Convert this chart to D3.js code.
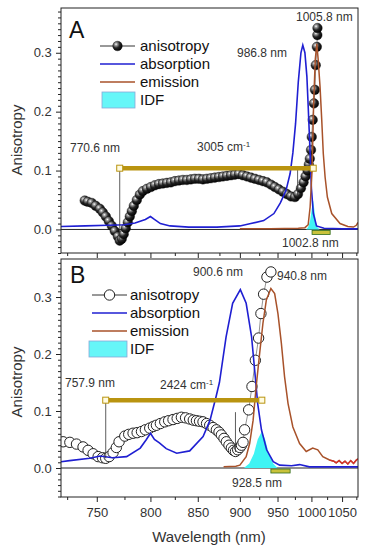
<!DOCTYPE html>
<html><head><meta charset="utf-8">
<script src="https://cdn.jsdelivr.net/npm/d3@7"></script>
<style>body{margin:0;background:#fff}svg{display:block}text{font-family:"Liberation Sans",Arial,sans-serif}</style>
</head><body><svg id="c" width="368" height="550"></svg>
<script>
// ---------- axis ticks ----------
const xTickLabels = [750, 800, 850, 900, 950, 1000, 1050];
const xMinorTicks = [725, 775, 825, 875, 925, 975, 1025, 1075];
const yTickLabels = [0.0, 0.1, 0.2, 0.3];
const yMinorA = [-0.04,-0.03,-0.02,-0.01,0.01,0.02,0.03,0.04,0.05,0.06,0.07,0.08,0.09,0.11,0.12,0.13,0.14,0.15,0.16,0.17,0.18,0.19,0.21,0.22,0.23,0.24,0.25,0.26,0.27,0.28,0.29,0.31,0.32,0.33,0.34,0.35,0.36,0.37];
const yMinorB = [-0.05,-0.04,-0.03,-0.02,-0.01,0.01,0.02,0.03,0.04,0.05,0.06,0.07,0.08,0.09,0.11,0.12,0.13,0.14,0.15,0.16,0.17,0.18,0.19,0.21,0.22,0.23,0.24,0.25,0.26,0.27,0.28,0.29,0.31,0.32,0.33,0.34,0.35,0.36];

// ---------- panel A data ----------
const absA_wl  = [720,740,760,775,785,795,800,804,810,820,840,872,900,914,931,945,954,962,968,972,976,980,984,986.8,990,993,995,998,1000,1003,1008,1020,1050,1078];
const absA_val = [0.005,0.006,0.007,0.008,0.011,0.017,0.022,0.017,0.010,0.006,0.004,0.004,0.006,0.010,0.015,0.027,0.045,0.066,0.095,0.13,0.18,0.25,0.30,0.313,0.30,0.26,0.21,0.13,0.07,0.027,0.006,0.002,0.001,0.001];

const emA_wl  = [900,940,980,990,995,998,1001,1003.5,1006,1008.4,1010.5,1013.6,1016.3,1018.8,1021.7,1025.4,1032.6,1046.5,1060,1069.8,1075,1078];
const emA_val = [0.001,0.001,0.002,0.003,0.008,0.038,0.10,0.214,0.288,0.315,0.29,0.242,0.186,0.129,0.089,0.055,0.027,0.010,0.005,0.004,0.007,0.012];

const idfA_wl  = [992,995,998,1000.5,1002.8,1005,1007,1010,1013];
const idfA_val = [0,0.004,0.015,0.035,0.049,0.030,0.012,0.003,0];

const anisA_wl  = [739.6,742.2,745.6,749.1,752.7,755.3,758.0,760.7,763.4,766.1,768.9,770.6,772.5,774.3,776.2,778.1,780.0,781.9,783.8,786.7,789.6,792.5,796.5,800.4,804.4,808.5,812.5,816.7,820.9,825.1,829.4,833.6,838.0,842.4,846.8,851.3,855.8,860.4,865.0,869.6,874.4,879.2,884.0,888.9,893.8,898.8,903.9,909.0,914.1,919.4,924.7,930.0,935.4,940.9,946.4,952.0,957.7,963.4,969.3,975.1,979.6,984,988,991,994,996,997.5,999.4,1000.5,1002,1004,1005.5,1006.8,1008.5,1009.3,1009.5];
const anisA_val = [0.049,0.047,0.045,0.040,0.035,0.029,0.022,0.014,0.006,-0.003,-0.012,-0.019,-0.016,-0.008,0.002,0.012,0.022,0.031,0.040,0.050,0.059,0.065,0.069,0.072,0.075,0.077,0.078,0.079,0.080,0.082,0.083,0.084,0.084,0.085,0.086,0.086,0.085,0.086,0.087,0.088,0.089,0.090,0.091,0.092,0.093,0.094,0.092,0.090,0.088,0.086,0.084,0.082,0.080,0.076,0.072,0.068,0.064,0.060,0.056,0.055,0.060,0.070,0.080,0.090,0.100,0.110,0.120,0.135,0.157,0.186,0.214,0.237,0.279,0.310,0.330,0.342];

const barA = [770.6, 1002.8];   // nm, 3005 cm-1
const barA_level = 0.104;
const markA = [979, 0.104, 0.058];
const bandA = [1001, 1030];

// ---------- panel B data ----------
const absB_wl  = [720,727,744,753,764,777,790,796,800,804,809,816,827,841,856,864,871,875,883,891,900.6,908,915,919,923,928,935,944,953,970,982,997,1057,1078];
const absB_val = [0.011,0.013,0.017,0.021,0.018,0.020,0.035,0.050,0.061,0.050,0.044,0.034,0.026,0.030,0.055,0.084,0.125,0.150,0.230,0.289,0.313,0.289,0.230,0.172,0.113,0.067,0.032,0.011,0.005,0.004,0.006,0.002,0.002,0.002];

const emB_wl  = [880,895,900,908,912.5,917,921,925.6,930,934.6,940.8,946,950.6,955.4,960,965,972,982,992,1002,1010,1018,1029,1036,1040,1045,1050,1055,1060,1065,1070,1075,1078];
const emB_val = [0.002,0.003,0.005,0.020,0.043,0.084,0.143,0.201,0.254,0.295,0.315,0.306,0.271,0.219,0.160,0.113,0.072,0.043,0.029,0.035,0.032,0.020,0.014,0.012,0.009,0.013,0.008,0.012,0.007,0.013,0.008,0.014,0.016];
const emB_noiseFrom = 1029;

const idfB_wl  = [905,912,918,923,928.5,933,938,944,950];
const idfB_val = [0,0.008,0.025,0.050,0.064,0.050,0.025,0.008,0];

const anisB_wl  = [721.7,727.2,732.7,738.2,742.5,746.8,751.2,755.0,757.9,761.0,764.5,767.5,770.0,775.3,779.0,783.1,787.0,791.2,795.0,799.3,803.0,806.0,810.0,814.5,818.5,823.1,827.5,832.0,836.5,841.0,845.0,848.5,852.0,855.9,860.0,863.6,867.5,871.4,874.5,877.3,880.5,883.3,886.5,889.4,892.0,894.5,897.3,900.0,902.0,904.0,906.0,911.2,915.5,919.9,924.2,927.3,930.9,935.4,940.8];
const anisB_val = [0.046,0.045,0.042,0.037,0.031,0.025,0.020,0.018,0.017,0.020,0.027,0.036,0.046,0.056,0.059,0.061,0.062,0.064,0.067,0.070,0.073,0.075,0.078,0.081,0.083,0.085,0.087,0.089,0.088,0.086,0.084,0.083,0.082,0.081,0.078,0.075,0.071,0.067,0.063,0.058,0.052,0.046,0.040,0.035,0.031,0.029,0.032,0.036,0.040,0.045,0.067,0.102,0.143,0.189,0.228,0.271,0.305,0.335,0.344];

const barB = [757.9, 928.5];   // nm, 2424 cm-1
const barB_level = 0.119;
const markB = [894.5, 0.098, 0.028];
const bandB = [940.8, 968];

// ---------- layout ----------
const svg = d3.select('#c');
const L = 61, R = 358;
const kx = d3.scaleLinear().domain([1e7/720, 1e7/1078]).range([L, R]);
const x = wl => kx(1e7/wl);

const yA = d3.scaleLinear().domain([-0.04, 0.376]).range([253, 8]);
const yB = d3.scaleLinear().domain([-0.05, 0.3667]).range([496.5, 259]);

const BLUE = '#1f1fd2', BROWN = '#a8522a', GOLD = '#b99410', CYAN = '#3ff4f4', TXT = '#333';

const defs = svg.append('defs');
const grad = defs.append('radialGradient').attr('id','ball').attr('cx','0.35').attr('cy','0.32').attr('r','0.7');
grad.append('stop').attr('offset','0').attr('stop-color','#ffffff');
grad.append('stop').attr('offset','0.2').attr('stop-color','#9a9a9a');
grad.append('stop').attr('offset','0.55').attr('stop-color','#252525');
grad.append('stop').attr('offset','1').attr('stop-color','#000');

function zip(a,b){ return a.map((d,i)=>[d,b[i]]); }

function panel(y, d, top, bottom, showXLabels) {
  const g = svg.append('g');
  const clip = 'clip' + top;
  defs.append('clipPath').attr('id', clip).append('rect').attr('x', L).attr('y', top).attr('width', R-L).attr('height', bottom-top);
  const pg = g.append('g').attr('clip-path', `url(#${clip})`);

  const line = d3.line().x(p=>x(p[0])).y(p=>y(p[1]));
  const area = d3.area().x(p=>x(p[0])).y0(y(0)).y1(p=>y(p[1]));

  pg.append('line').attr('x1',L).attr('x2',R).attr('y1',y(0)).attr('y2',y(0)).attr('stroke','#222').attr('stroke-width',1);

  pg.append('path').datum(zip(d.idfWl,d.idfVal)).attr('d',area).attr('fill',CYAN).attr('stroke','none');

  const an = zip(d.anWl,d.anVal);
  pg.append('path').datum(an).attr('d',line).attr('fill','none').attr('stroke','#777').attr('stroke-width',0.8);
  if (d.ball) {
    pg.selectAll(null).data(an).enter().append('circle').attr('cx',p=>x(p[0])).attr('cy',p=>y(p[1])).attr('r',4.8).attr('fill','url(#ball)').attr('stroke','#111').attr('stroke-width',0.4);
  } else {
    pg.selectAll(null).data(an).enter().append('circle').attr('cx',p=>x(p[0])).attr('cy',p=>y(p[1])).attr('r',5.2).attr('fill','#fff').attr('stroke','#222').attr('stroke-width',1);
  }

  pg.append('path').datum(zip(d.absWl,d.absVal)).attr('d',line).attr('fill','none').attr('stroke',BLUE).attr('stroke-width',1.6);
  const em = zip(d.emWl,d.emVal);
  pg.append('path').datum(em).attr('d',line).attr('fill','none').attr('stroke',BROWN).attr('stroke-width',1.5);
  if (d.noiseFrom) {
    pg.append('path').datum(em.filter(p=>p[0]>=d.noiseFrom)).attr('d',line).attr('fill','none').attr('stroke','#d8322a').attr('stroke-width',1.3);
  }

  pg.append('rect').attr('x',x(d.band[0])).attr('y',y(0)+1).attr('width',x(d.band[1])-x(d.band[0])).attr('height',4)
    .attr('fill','#c9c23a').attr('stroke','#2f6a1a').attr('stroke-width',0.8);

  pg.append('line').attr('x1',x(d.bar[0])).attr('x2',x(d.bar[0])).attr('y1',y(d.barLevel)).attr('y2',y(d.anVal[d.anWl.indexOf(d.bar[0])]))
    .attr('stroke','#333').attr('stroke-width',0.8);
  pg.append('line').attr('x1',x(d.mark[0])).attr('x2',x(d.mark[0])).attr('y1',y(d.mark[1])).attr('y2',y(d.mark[2]))
    .attr('stroke','#333').attr('stroke-width',0.8);

  pg.append('line').attr('x1',x(d.bar[0])).attr('x2',x(d.bar[1])).attr('y1',y(d.barLevel)).attr('y2',y(d.barLevel))
    .attr('stroke',GOLD).attr('stroke-width',4.5);
  d.bar.forEach(w => {
    pg.append('rect').attr('x',x(w)-3).attr('y',y(d.barLevel)-3).attr('width',6).attr('height',6)
      .attr('fill','#fffbe0').attr('stroke',GOLD).attr('stroke-width',1);
  });

  g.append('rect').attr('x',L).attr('y',top).attr('width',R-L).attr('height',bottom-top).attr('fill','none').attr('stroke','#222').attr('stroke-width',1);

  const xa = g.append('g').attr('transform',`translate(0,${bottom})`)
    .call(d3.axisBottom(kx).tickValues(xTickLabels.map(w=>1e7/w)).tickSize(5).tickFormat((v,i)=>showXLabels ? xTickLabels[i] : ''));
  xa.select('.domain').remove();
  xa.selectAll('text').attr('font-size',13).attr('fill',TXT).attr('dy','0.95em').style('font-family','"Liberation Sans",Arial,sans-serif');
  xa.selectAll('line').attr('stroke','#222');
  const xm = g.append('g').attr('transform',`translate(0,${bottom})`)
    .call(d3.axisBottom(kx).tickValues(xMinorTicks.map(w=>1e7/w)).tickSize(3).tickFormat(''));
  xm.select('.domain').remove(); xm.selectAll('line').attr('stroke','#222');

  const ya = g.append('g').attr('transform',`translate(${L},0)`)
    .call(d3.axisLeft(y).tickValues(yTickLabels).tickSize(5).tickFormat(d3.format('.1f')));
  ya.select('.domain').remove();
  ya.selectAll('text').attr('font-size',13).attr('fill',TXT).attr('dx','-0.1em').style('font-family','"Liberation Sans",Arial,sans-serif');
  ya.selectAll('line').attr('stroke','#222');
  const ym = g.append('g').attr('transform',`translate(${L},0)`)
    .call(d3.axisLeft(y).tickValues(d.yMinor).tickSize(3).tickFormat(''));
  ym.select('.domain').remove(); ym.selectAll('line').attr('stroke','#222');
  return g;
}

panel(yA, {idfWl:idfA_wl,idfVal:idfA_val,anWl:anisA_wl,anVal:anisA_val,absWl:absA_wl,absVal:absA_val,emWl:emA_wl,emVal:emA_val,
  band:bandA,bar:barA,barLevel:barA_level,mark:markA,ball:true,yMinor:yMinorA}, 8, 253, false);
panel(yB, {idfWl:idfB_wl,idfVal:idfB_val,anWl:anisB_wl,anVal:anisB_val,absWl:absB_wl,absVal:absB_val,emWl:emB_wl,emVal:emB_val,
  noiseFrom:emB_noiseFrom,band:bandB,bar:barB,barLevel:barB_level,mark:markB,ball:false,yMinor:yMinorB}, 259, 497, true);

// ---------- texts ----------
function txt(s, px, py, size, anchor) {
  return svg.append('text').attr('x',px).attr('y',py).attr('font-size',size).attr('fill',TXT).attr('text-anchor',anchor||'start').text(s);
}
svg.append('text').attr('x',69).attr('y',38).attr('font-size',23).attr('fill','#111').text('A');
svg.append('text').attr('x',70).attr('y',283).attr('font-size',23).attr('fill','#111').text('B');

txt('770.6 nm', 70, 152, 12);
const tA = txt('3005 cm', 197, 151, 12); tA.append('tspan').attr('baseline-shift','super').attr('font-size',8).text('-1');
txt('986.8 nm', 237, 57, 12);
txt('1005.8 nm', 296, 21, 12);
txt('1002.8 nm', 282, 247, 12);
txt('757.9 nm', 65, 387, 12);
const tB = txt('2424 cm', 160, 389, 12); tB.append('tspan').attr('baseline-shift','super').attr('font-size',8).text('-1');
txt('900.6 nm', 193, 276, 12);
txt('940.8 nm', 277, 280, 12);
txt('928.5 nm', 232, 487, 12);

svg.append('text').attr('transform','translate(22,140) rotate(-90)').attr('text-anchor','middle').attr('font-size',15).attr('fill',TXT).text('Anisotropy');
svg.append('text').attr('transform','translate(22,382) rotate(-90)').attr('text-anchor','middle').attr('font-size',15).attr('fill',TXT).text('Anisotropy');
svg.append('text').attr('x',209).attr('y',542).attr('text-anchor','middle').attr('font-size',15).attr('fill',TXT).text('Wavelength (nm)');

// ---------- legends ----------
function legend(lx, tx, y0, dy, ball, boxX) {
  const g = svg.append('g');
  g.append('line').attr('x1',lx).attr('x2',lx+35).attr('y1',y0).attr('y2',y0).attr('stroke','#333').attr('stroke-width',1);
  if (ball) g.append('circle').attr('cx',lx+17.5).attr('cy',y0).attr('r',4.8).attr('fill','url(#ball)').attr('stroke','#111').attr('stroke-width',0.4);
  else g.append('circle').attr('cx',lx+17.5).attr('cy',y0).attr('r',5.2).attr('fill','#fff').attr('stroke','#222');
  g.append('line').attr('x1',lx).attr('x2',lx+35).attr('y1',y0+dy).attr('y2',y0+dy).attr('stroke',BLUE).attr('stroke-width',1.6);
  g.append('line').attr('x1',lx).attr('x2',lx+35).attr('y1',y0+2*dy).attr('y2',y0+2*dy).attr('stroke',BROWN).attr('stroke-width',1.6);
  g.append('rect').attr('x',boxX).attr('y',y0+3*dy-8).attr('width',lx+35-boxX).attr('height',16).attr('fill','#66f6f8').attr('stroke','#88a8d8').attr('stroke-width',0.8);
  ['anisotropy','absorption','emission','IDF'].forEach((s,i)=>{
    g.append('text').attr('x',tx).attr('y',y0+i*dy).attr('dy','0.36em').attr('font-size',15).attr('fill','#111').text(s);
  });
}
legend(100, 140, 46, 18, true, 102);
legend(92, 130, 295, 18, false, 89);
</script></body></html>
